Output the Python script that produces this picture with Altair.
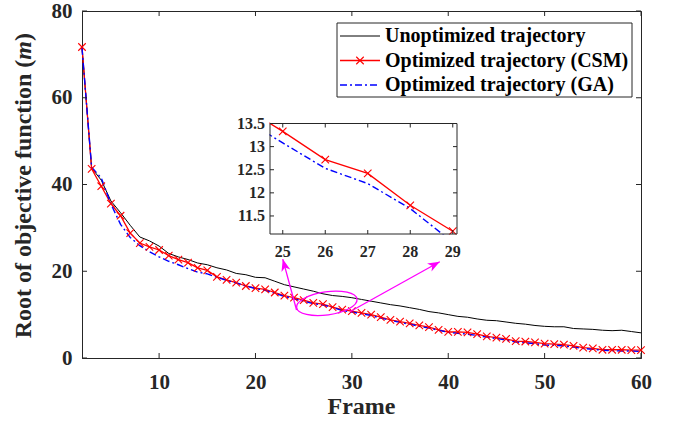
import math

import altair as alt
import pandas as pd

FONT = "Liberation Serif"
AXIS_GRAY = "#262626"
MAGENTA = "#ff00ff"

# ---------------------------------------------------------------- data
frames = list(range(2, 61))

unoptimized = [71.5, 43.8, 41.0, 36.2, 33.5, 30.6, 27.9, 27.0, 25.8, 24.1,
               23.3, 22.7, 21.9, 21.5, 20.8, 20.3, 19.5, 19.2, 18.6, 18.5,
               17.7, 16.9, 16.4, 15.9, 15.4, 14.8, 14.4, 14.2, 13.9, 13.5,
               13.1, 12.7, 12.3, 12.0, 11.6, 11.2, 10.7, 10.4, 10.0, 9.6,
               9.4, 9.0, 8.7, 8.6, 8.3, 8.0, 7.8, 7.5, 7.3, 7.2,
               7.2, 6.8, 6.7, 6.6, 6.4, 6.3, 6.4, 6.1, 5.8]

csm = [71.7, 43.6, 39.6, 35.6, 32.8, 28.8, 26.5, 25.6, 24.9, 23.6,
       22.7, 22.0, 20.8, 20.2, 18.7, 18.0, 17.4, 16.6, 16.1, 15.8,
       15.1, 14.4, 13.9, 13.33, 12.72, 12.42, 11.73, 11.17, 10.8, 10.4,
       10.0, 9.4, 8.8, 8.4, 8.0, 7.5, 7.1, 6.5, 6.0, 6.0,
       5.9, 5.5, 5.0, 4.7, 4.4, 3.9, 3.8, 3.6, 3.3, 3.2,
       3.1, 2.8, 2.4, 2.2, 1.9, 1.9, 1.9, 1.8, 1.8]

ga = [71.5, 44.0, 41.5, 35.5, 30.8, 27.8, 25.9, 24.5, 23.3, 22.3,
      21.5, 20.6, 19.8, 19.4, 18.6, 17.9, 17.3, 16.6, 16.0, 15.6,
      14.9, 14.2, 13.64, 13.08, 12.53, 12.2, 11.66, 10.93, 10.6, 10.2,
      9.8, 9.2, 8.7, 8.2, 7.8, 7.3, 6.9, 6.4, 5.9, 5.7,
      5.5, 5.2, 4.8, 4.5, 4.1, 3.7, 3.5, 3.3, 3.0, 2.9,
      2.8, 2.5, 2.2, 2.0, 1.8, 1.7, 1.6, 1.6, 1.5]

x_ticks = [10, 20, 30, 40, 50, 60]
y_ticks = [0, 20, 40, 60, 80]

inset_frames = [24, 25, 26, 27, 28, 29]
inset_x_ticks = [25, 26, 27, 28, 29]
inset_y_ticks = [11.5, 12.0, 12.5, 13.0, 13.5]
inset_y_labels = ["11.5", "12", "12.5", "13", "13.5"]

series_labels = ["Unoptimized trajectory",
                 "Optimized trajectory (CSM)",
                 "Optimized trajectory (GA)"]

# zoom annotation (in frame / metre units)
zoom_center = [27.4, 12.6]
arrow_tail_frame = [24.26, 29.79]
arrow_tail_value = [11.07, 10.67]
arrow_head_frame = [22.83, 39.12]
arrow_head_value = [22.8, 22.2]

# ---------------------------------------------------------------- layout
W, H = 559, 347
X_DOMAIN = [2, 60]
Y_DOMAIN = [0, 80]
INSET_X_DOMAIN = [24.7, 29.1]
INSET_Y_DOMAIN = [11.11, 13.5]
IX0, IX1 = 188, 375       # inset frame, pixels inside the plot area
IY0, IY1 = 112.5, 223

X_SHAPE = "M -1 -1 L 1 1 M -1 1 L 1 -1"
ELLIPSE = "M -1 0 A 1 0.38 0 1 0 1 0 A 1 0.38 0 1 0 -1 0 Z"
HEAD = "M 0 0 L 0.38 1 L 0 0.72 L -0.38 1 Z"

one = pd.DataFrame({"k": [0]})

xs = alt.Scale(domain=X_DOMAIN, nice=False, zero=False)
ys = alt.Scale(domain=Y_DOMAIN, nice=False, zero=False)

label_style = dict(labelFont=FONT, labelFontWeight="bold", labelColor=AXIS_GRAY,
                   domainColor=AXIS_GRAY, domainWidth=1, grid=False, ticks=False,
                   tickSize=0, title=None, labelFlush=False, labelOverlap=False)
x_axis = alt.Axis(values=x_ticks, labelFontSize=21, labelPadding=13, **label_style)
y_axis = alt.Axis(values=y_ticks, labelFontSize=21, labelPadding=10, **label_style)


def X(field):
    return alt.X(f"{field}:Q", scale=xs, axis=x_axis)


def Y(field):
    return alt.Y(f"{field}:Q", scale=ys, axis=y_axis)


df = pd.DataFrame({"frame": frames, "unoptimized": unoptimized, "csm": csm, "ga": ga})
base = alt.Chart(df)

black_line = base.mark_line(color="#000000", strokeWidth=1).encode(x=X("frame"), y=Y("unoptimized"))
red_line = base.mark_line(color="#ff0000", strokeWidth=1.3).encode(x=X("frame"), y=Y("csm"))
blue_line = base.mark_line(color="#0000ff", strokeWidth=1.4, strokeDash=[7, 3, 2, 3]).encode(
    x=X("frame"), y=Y("ga"))
red_marks = base.mark_point(shape=X_SHAPE, size=56, filled=False, color="#ff0000",
                            strokeWidth=1.1, opacity=1).encode(x=X("frame"), y=Y("csm"))

# inward ticks on all four sides
xt = alt.Chart(pd.DataFrame({"t": x_ticks}))
yt = alt.Chart(pd.DataFrame({"t": y_ticks}))
tick_style = dict(color=AXIS_GRAY, strokeWidth=1)
ticks = [
    xt.mark_rule(**tick_style).encode(x=X("t"), y=alt.value(H), y2=alt.value(H - 5)),
    xt.mark_rule(**tick_style).encode(x=X("t"), y=alt.value(0), y2=alt.value(5)),
    yt.mark_rule(**tick_style).encode(y=Y("t"), x=alt.value(0), x2=alt.value(5)),
    yt.mark_rule(**tick_style).encode(y=Y("t"), x=alt.value(W), x2=alt.value(W - 5)),
]

# ellipse around the zoomed frames and the two arrows
ellipse = alt.Chart(pd.DataFrame({"frame": [zoom_center[0]], "value": [zoom_center[1]]})).mark_point(
    shape=ELLIPSE, size=3721, filled=False, color=MAGENTA, strokeWidth=1.3, opacity=1, angle=352
).encode(x=X("frame"), y=Y("value"))


def to_px(f, v):
    return ((f - X_DOMAIN[0]) * W / (X_DOMAIN[1] - X_DOMAIN[0]),
            H - (v - Y_DOMAIN[0]) * H / (Y_DOMAIN[1] - Y_DOMAIN[0]))


angles = []
for tf, tv, hf, hv in zip(arrow_tail_frame, arrow_tail_value, arrow_head_frame, arrow_head_value):
    (tx, ty), (hx, hy) = to_px(tf, tv), to_px(hf, hv)
    angles.append(math.degrees(math.atan2(hx - tx, -(hy - ty))) % 360)

arrows_df = pd.DataFrame({"f0": arrow_tail_frame, "v0": arrow_tail_value,
                          "f1": arrow_head_frame, "v1": arrow_head_value, "angle": angles})
arrow_shafts = alt.Chart(arrows_df).mark_rule(color=MAGENTA, strokeWidth=1.3).encode(
    x=X("f0"), y=Y("v0"), x2="f1:Q", y2="v1:Q")
arrow_heads = alt.Chart(arrows_df).mark_point(shape=HEAD, size=576, filled=True, color=MAGENTA,
                                              opacity=1).encode(
    x=X("f1"), y=Y("v1"), angle=alt.Angle("angle:Q", scale=None))

main = alt.layer(black_line, red_line, blue_line, red_marks, *ticks,
                 ellipse, arrow_shafts, arrow_heads)

# ---------------------------------------------------------------- inset
ixs = alt.Scale(domain=INSET_X_DOMAIN, range=[IX0, IX1], nice=False, zero=False)
iys = alt.Scale(domain=INSET_Y_DOMAIN, range=[IY1, IY0], nice=False, zero=False)


def IX(field):
    return alt.X(f"{field}:Q", scale=ixs, axis=None)


def IY(field):
    return alt.Y(f"{field}:Q", scale=iys, axis=None)


inset_df = df[df["frame"].isin(inset_frames)]
ib = alt.Chart(inset_df)
white = "#ffffff"


def box(x0, x1, y0, y1, **kw):
    return alt.Chart(one).mark_rect(**kw).encode(
        x=alt.value(x0), x2=alt.value(x1), y=alt.value(y0), y2=alt.value(y1))


inset_bg = box(IX0, IX1, IY0, IY1, fill=white)
inset_red = ib.mark_line(color="#ff0000", strokeWidth=1.3).encode(x=IX("frame"), y=IY("csm"))
inset_blue = ib.mark_line(color="#0000ff", strokeWidth=1.4, strokeDash=[7, 3, 2, 3]).encode(
    x=IX("frame"), y=IY("ga"))
inset_marks = ib.mark_point(shape=X_SHAPE, size=56, filled=False, color="#ff0000",
                            strokeWidth=1.1, opacity=1).encode(x=IX("frame"), y=IY("csm"))
# keep the inset curves inside their frame
mask_left = box(140, IX0 - 0.5, 80, IY1 + 0.5, fill=white)
mask_bottom = box(140, IX1 + 6, IY1 + 0.5, IY1 + 13, fill=white)
inset_frame = box(IX0, IX1, IY0, IY1, fill=white, fillOpacity=0, stroke=AXIS_GRAY, strokeWidth=1)

ixt = alt.Chart(pd.DataFrame({"t": inset_x_ticks}))
iyt = alt.Chart(pd.DataFrame({"t": inset_y_ticks, "label": inset_y_labels}))
inset_ticks = [
    ixt.mark_rule(**tick_style).encode(x=IX("t"), y=alt.value(IY1), y2=alt.value(IY1 - 4)),
    ixt.mark_rule(**tick_style).encode(x=IX("t"), y=alt.value(IY0), y2=alt.value(IY0 + 4)),
    iyt.mark_rule(**tick_style).encode(y=IY("t"), x=alt.value(IX0), x2=alt.value(IX0 + 4)),
    iyt.mark_rule(**tick_style).encode(y=IY("t"), x=alt.value(IX1), x2=alt.value(IX1 - 4)),
]
inset_text = dict(font=FONT, fontSize=16, fontWeight="bold", color=AXIS_GRAY)
inset_xlabels = ixt.mark_text(align="center", baseline="alphabetic", **inset_text).encode(
    x=IX("t"), y=alt.value(IY1 + 23), text=alt.Text("t:Q", format="d"))
inset_ylabels = iyt.mark_text(align="right", baseline="middle", **inset_text).encode(
    y=IY("t"), x=alt.value(IX0 - 5), text="label:N")

inset = alt.layer(inset_bg, inset_red, inset_blue, inset_marks, mask_left, mask_bottom,
                  inset_frame, *inset_ticks, inset_xlabels, inset_ylabels)

# ---------------------------------------------------------------- legend and titles
LX0, LX1, LY0, LY1 = 255, 550, 12, 86
row_y = [25, 49.5, 74]
legend_parts = [box(LX0, LX1, LY0, LY1, fill=white, stroke=AXIS_GRAY, strokeWidth=1)]
line_styles = [dict(color="#000000", strokeWidth=1),
               dict(color="#ff0000", strokeWidth=1.3),
               dict(color="#0000ff", strokeWidth=1.4, strokeDash=[7, 3, 2, 3])]
for label, ry, style in zip(series_labels, row_y, line_styles):
    legend_parts.append(alt.Chart(one).mark_rule(**style).encode(
        x=alt.value(258), x2=alt.value(298), y=alt.value(ry)))
    legend_parts.append(alt.Chart(pd.DataFrame({"label": [label]})).mark_text(
        align="left", baseline="middle", font=FONT, fontSize=20, fontWeight="bold",
        color="#000000").encode(x=alt.value(303), y=alt.value(ry), text="label:N"))
legend_parts.append(alt.Chart(one).mark_point(
    shape=X_SHAPE, size=56, filled=False, color="#ff0000", strokeWidth=1.1, opacity=1).encode(
    x=alt.value(278), y=alt.value(row_y[1])))

title_style = dict(font=FONT, fontSize=24, fontWeight="bold", color=AXIS_GRAY)
y_title = [
    alt.Chart(one).mark_text(text="Root of objective function (", angle=270, align="left",
                             baseline="alphabetic", **title_style).encode(
        x=alt.value(-51), y=alt.value(327.3)),
    alt.Chart(one).mark_text(text="m", angle=270, align="left", baseline="alphabetic",
                             fontStyle="italic", **title_style).encode(
        x=alt.value(-51), y=alt.value(48.7)),
    alt.Chart(one).mark_text(text=")", angle=270, align="left", baseline="alphabetic",
                             **title_style).encode(
        x=alt.value(-51), y=alt.value(30.0)),
]
x_title = alt.Chart(one).mark_text(text="Frame", align="center", baseline="alphabetic",
                                   **title_style).encode(x=alt.value(W / 2), y=alt.value(402.5))

overlay = alt.layer(*legend_parts, *y_title, x_title)

chart = alt.layer(main, inset, overlay).resolve_scale(
    x="independent", y="independent"
).properties(
    width=W, height=H,
    autosize=alt.AutoSizeParams(type="none"),
    padding={"left": 82, "top": 11, "right": 37, "bottom": 64},
    background="white",
).configure_view(stroke=AXIS_GRAY, strokeWidth=1)

chart.save("out.html", embed_options={"renderer": "svg", "actions": False})
